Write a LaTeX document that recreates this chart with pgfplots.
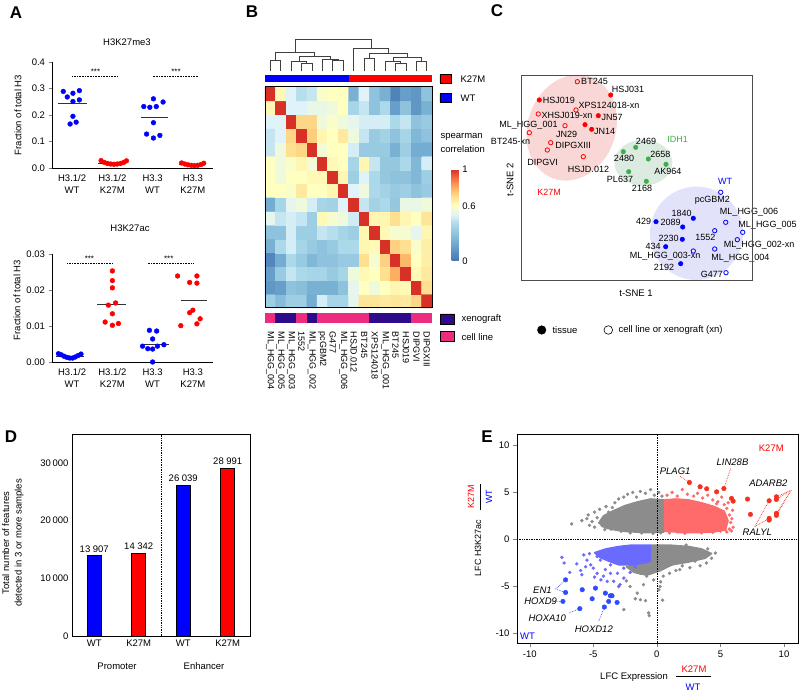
\documentclass[border=0pt]{standalone}
\usepackage{fontspec}
\setmainfont{Liberation Sans}
\usepackage{pgfplots}
\pgfplotsset{compat=1.18}

\definecolor{cRed}{HTML}{FF0000}
\definecolor{cBlue}{HTML}{0000FF}
\definecolor{cGreen}{HTML}{3DAE49}
\definecolor{xeno}{HTML}{2E0B8A}
\definecolor{cellln}{HTML}{EC2C7E}
\definecolor{pinkbg}{HTML}{F9D7D7}
\definecolor{greenbg}{HTML}{DCEBE0}
\definecolor{bluebg}{HTML}{E2E2FB}
\definecolor{dotgray}{HTML}{8C8C8C}
\definecolor{dotred}{HTML}{FF6A6A}
\definecolor{dotblue}{HTML}{6A6AFF}
\definecolor{bigred}{HTML}{F5301F}
\definecolor{bigblue}{HTML}{2F4BFF}

\pgfplotsset{
  colormap={rdylbu}{rgb255(0cm)=(69,117,180); rgb255(2cm)=(116,173,209); rgb255(4cm)=(171,217,233); rgb255(5cm)=(224,243,248); rgb255(6cm)=(255,255,191); rgb255(7cm)=(254,224,144); rgb255(8cm)=(253,174,97); rgb255(9cm)=(244,109,67); rgb255(10cm)=(215,48,39)},
  every axis/.append style={font=\fontsize{9.5}{11.5}\selectfont},
  panel/.style={anchor=south west, scale only axis},
}

\begin{document}
\begin{tikzpicture}[font=\fontsize{9.5}{11.5}\selectfont]
\path[use as bounding box] (0,0) rectangle (800pt,694pt);

% ---------- A: H3K27me3
\begin{axis}[panel, at={(52pt,526pt)}, width=161pt, height=106pt,
  axis x line*=bottom, axis y line*=left, axis line style={-, line width=0.7pt},
  xmin=0.5, xmax=4.5, ymin=0, ymax=0.4, scaled y ticks=false,
  ytick={0,0.1,0.2,0.3,0.4}, yticklabels={0.0,0.1,0.2,0.3,0.4},
  xtick={1,2,3,4}, xticklabels={{H3.1/2\\WT},{H3.1/2\\K27M},{H3.3\\WT},{H3.3\\K27M}},
  xticklabel style={align=center, font=\fontsize{9.5}{12}\selectfont},
  xtick style={draw=none}, tick align=outside, major tick length=3.5pt, clip=false]
\addplot[only marks, mark=*, mark size=2.4pt, cBlue] coordinates {
  (0.78,0.289)(0.88,0.268)(1.02,0.282)(1.18,0.292)(1.02,0.251)(1.18,0.257)(1.02,0.195)(0.95,0.166)(1.10,0.173)};
\addplot[only marks, mark=*, mark size=2.4pt, cRed] coordinates {
  (1.72,0.028)(1.80,0.021)(1.88,0.017)(1.96,0.015)(2.04,0.014)(2.12,0.015)(2.20,0.017)(2.28,0.021)(2.35,0.027)};
\addplot[only marks, mark=*, mark size=2.4pt, cBlue] coordinates {
  (2.78,0.232)(2.93,0.229)(3.09,0.232)(3.26,0.249)(3.02,0.261)(3.02,0.171)(2.85,0.128)(3.02,0.113)(3.18,0.123)};
\addplot[only marks, mark=*, mark size=2.4pt, cRed] coordinates {
  (3.72,0.019)(3.80,0.015)(3.88,0.012)(3.96,0.010)(4.04,0.009)(4.12,0.010)(4.20,0.013)(4.27,0.018)};
\addplot[black!80, line width=0.8pt] coordinates {(0.65,0.242)(1.38,0.242)};
\addplot[black!80, line width=0.8pt] coordinates {(1.65,0.017)(2.35,0.017)};
\addplot[black!80, line width=0.8pt] coordinates {(2.70,0.192)(3.37,0.192)};
\addplot[black!80, line width=0.8pt] coordinates {(3.65,0.013)(4.30,0.013)};
\addplot[black, densely dotted, line width=0.6pt] coordinates {(1.0,0.347)(2.12,0.347)};
\addplot[black, densely dotted, line width=0.6pt] coordinates {(3.0,0.347)(4.12,0.347)};
\node[font=\fontsize{8}{8}\selectfont] at (axis cs:1.58,0.362) {***};
\node[font=\fontsize{8}{8}\selectfont] at (axis cs:3.58,0.362) {***};
\end{axis}

% ---------- A: H3K27ac
\begin{axis}[panel, at={(52pt,332pt)}, width=161pt, height=108pt,
  axis x line*=bottom, axis y line*=left, axis line style={-, line width=0.7pt},
  xmin=0.5, xmax=4.5, ymin=0, ymax=0.03, scaled y ticks=false,
  ytick={0,0.01,0.02,0.03}, yticklabels={0.00,0.01,0.02,0.03},
  xtick={1,2,3,4}, xticklabels={{H3.1/2\\WT},{H3.1/2\\K27M},{H3.3\\WT},{H3.3\\K27M}},
  xticklabel style={align=center, font=\fontsize{9.5}{12}\selectfont},
  xtick style={draw=none}, tick align=outside, major tick length=3.5pt, clip=false]
\addplot[only marks, mark=*, mark size=2.4pt, cBlue] coordinates {
  (0.66,0.0023)(0.73,0.0020)(0.80,0.0016)(0.87,0.0013)(0.94,0.0011)(1.01,0.0011)(1.08,0.0014)(1.15,0.0018)(1.22,0.0022)};
\addplot[only marks, mark=*, mark size=2.4pt, cRed] coordinates {
  (2.00,0.0253)(2.00,0.0226)(2.00,0.0206)(1.90,0.0158)(2.08,0.0164)(2.00,0.0134)(1.82,0.0111)(2.00,0.0102)(2.15,0.0107)};
\addplot[only marks, mark=*, mark size=2.4pt, cBlue] coordinates {
  (2.92,0.0088)(3.10,0.0086)(3.00,0.0064)(2.75,0.0044)(2.88,0.0037)(3.00,0.0036)(3.12,0.0044)(3.28,0.0048)(3.00,0.0000)};
\addplot[only marks, mark=*, mark size=2.4pt, cRed] coordinates {
  (3.62,0.0239)(4.10,0.0239)(3.92,0.0221)(4.10,0.0219)(4.00,0.0144)(3.92,0.0137)(3.70,0.0101)(4.10,0.0106)(4.18,0.0120)};
\addplot[black!80, line width=0.8pt] coordinates {(0.60,0.0016)(1.30,0.0016)};
\addplot[black!80, line width=0.8pt] coordinates {(1.62,0.0161)(2.33,0.0161)};
\addplot[black!80, line width=0.8pt] coordinates {(2.74,0.0050)(3.41,0.0050)};
\addplot[black!80, line width=0.8pt] coordinates {(3.70,0.0171)(4.35,0.0171)};
\addplot[black, densely dotted, line width=0.6pt] coordinates {(0.88,0.0275)(2.0,0.0275)};
\addplot[black, densely dotted, line width=0.6pt] coordinates {(2.88,0.0275)(4.0,0.0275)};
\node[font=\fontsize{8}{8}\selectfont] at (axis cs:1.43,0.0287) {***};
\node[font=\fontsize{8}{8}\selectfont] at (axis cs:3.40,0.0287) {***};
\end{axis}

% ---------- B: heatmap
\begin{axis}[panel, at={(265pt,386pt)}, width=167pt, height=221pt,
  xmin=0, xmax=16, ymin=0, ymax=16, xtick=\empty, ytick=\empty,
  axis on top, axis line style={line width=1pt}, clip=false,
  colormap name=rdylbu, point meta min=0, point meta max=1,
  colorbar, colorbar style={at={(parent axis.north east)}, anchor=north west,
    xshift=11pt, yshift=-82pt, scale only axis, width=7.3pt, height=92pt,
    ytick={0,0.6,1}, yticklabels={0,0.6,1}, axis line style={draw=none},
    major tick length=0pt, yticklabel style={font=\fontsize{9.5}{11}\selectfont}}]
\addplot[matrix plot*, mesh/cols=16, point meta=explicit] coordinates {
(0.5,0.5)[.35] (1.5,0.5)[.27] (2.5,0.5)[.35] (3.5,0.5)[.35] (4.5,0.5)[.20] (5.5,0.5)[.48] (6.5,0.5)[.38] (7.5,0.5)[.38] (8.5,0.5)[.52] (9.5,0.5)[.68] (10.5,0.5)[.68] (11.5,0.5)[.67] (12.5,0.5)[.68] (13.5,0.5)[.67] (14.5,0.5)[.72] (15.5,0.5)[1]

(0.5,1.5)[.12] (1.5,1.5)[.15] (2.5,1.5)[.30] (3.5,1.5)[.28] (4.5,1.5)[.22] (5.5,1.5)[.22] (6.5,1.5)[.22] (7.5,1.5)[.30] (8.5,1.5)[.52] (9.5,1.5)[.60] (10.5,1.5)[.55] (11.5,1.5)[.60] (12.5,1.5)[.63] (13.5,1.5)[.62] (14.5,1.5)[1] (15.5,1.5)[.70]

(0.5,2.5)[.15] (1.5,2.5)[.33] (2.5,2.5)[.45] (3.5,2.5)[.40] (4.5,2.5)[.38] (5.5,2.5)[.38] (6.5,2.5)[.33] (7.5,2.5)[.38] (8.5,2.5)[.55] (9.5,2.5)[.62] (10.5,2.5)[.60] (11.5,2.5)[.70] (12.5,2.5)[.80] (13.5,2.5)[1] (14.5,2.5)[.62] (15.5,2.5)[.67]

(0.5,3.5)[.06] (1.5,3.5)[.20] (2.5,3.5)[.40] (3.5,3.5)[.33] (4.5,3.5)[.25] (5.5,3.5)[.30] (6.5,3.5)[.30] (7.5,3.5)[.33] (8.5,3.5)[.33] (9.5,3.5)[.70] (10.5,3.5)[.57] (11.5,3.5)[.73] (12.5,3.5)[1] (13.5,3.5)[.78] (14.5,3.5)[.60] (15.5,3.5)[.65]

(0.5,4.5)[.22] (1.5,4.5)[.40] (2.5,4.5)[.48] (3.5,4.5)[.38] (4.5,4.5)[.33] (5.5,4.5)[.30] (6.5,4.5)[.33] (7.5,4.5)[.40] (8.5,4.5)[.40] (9.5,4.5)[.63] (10.5,4.5)[.62] (11.5,4.5)[1] (12.5,4.5)[.73] (13.5,4.5)[.70] (14.5,4.5)[.58] (15.5,4.5)[.65]

(0.5,5.5)[.30] (1.5,5.5)[.30] (2.5,5.5)[.48] (3.5,5.5)[.35] (4.5,5.5)[.35] (5.5,5.5)[.45] (6.5,5.5)[.42] (7.5,5.5)[.38] (8.5,5.5)[.35] (9.5,5.5)[.63] (10.5,5.5)[1] (11.5,5.5)[.62] (12.5,5.5)[.57] (13.5,5.5)[.57] (14.5,5.5)[.52] (15.5,5.5)[.63]

(0.5,6.5)[.52] (1.5,6.5)[.45] (2.5,6.5)[.48] (3.5,6.5)[.45] (4.5,6.5)[.35] (5.5,6.5)[.62] (6.5,6.5)[.57] (7.5,6.5)[.55] (8.5,6.5)[.47] (9.5,6.5)[1] (10.5,6.5)[.63] (11.5,6.5)[.63] (12.5,6.5)[.70] (13.5,6.5)[.63] (14.5,6.5)[.60] (15.5,6.5)[.68]

(0.5,7.5)[.20] (1.5,7.5)[.38] (2.5,7.5)[.52] (3.5,7.5)[.55] (4.5,7.5)[.48] (5.5,7.5)[.38] (6.5,7.5)[.37] (7.5,7.5)[.50] (8.5,7.5)[1] (9.5,7.5)[.45] (10.5,7.5)[.37] (11.5,7.5)[.40] (12.5,7.5)[.32] (13.5,7.5)[.53] (14.5,7.5)[.53] (15.5,7.5)[.55]

(0.5,8.5)[.60] (1.5,8.5)[.60] (2.5,8.5)[.58] (3.5,8.5)[.67] (4.5,8.5)[.60] (5.5,8.5)[.60] (6.5,8.5)[.63] (7.5,8.5)[1] (8.5,8.5)[.50] (9.5,8.5)[.55] (10.5,8.5)[.40] (11.5,8.5)[.37] (12.5,8.5)[.33] (13.5,8.5)[.35] (14.5,8.5)[.30] (15.5,8.5)[.33]

(0.5,9.5)[.60] (1.5,9.5)[.55] (2.5,9.5)[.60] (3.5,9.5)[.60] (4.5,9.5)[.62] (5.5,9.5)[.62] (6.5,9.5)[1] (7.5,9.5)[.63] (8.5,9.5)[.35] (9.5,9.5)[.50] (10.5,9.5)[.40] (11.5,9.5)[.32] (12.5,9.5)[.30] (13.5,9.5)[.30] (14.5,9.5)[.25] (15.5,9.5)[.35]

(0.5,10.5)[.60] (1.5,10.5)[.55] (2.5,10.5)[.58] (3.5,10.5)[.63] (4.5,10.5)[.56] (5.5,10.5)[1] (6.5,10.5)[.62] (7.5,10.5)[.60] (8.5,10.5)[.38] (9.5,10.5)[.63] (10.5,10.5)[.45] (11.5,10.5)[.32] (12.5,10.5)[.32] (13.5,10.5)[.40] (14.5,10.5)[.25] (15.5,10.5)[.48]

(0.5,11.5)[.45] (1.5,11.5)[.55] (2.5,11.5)[.70] (3.5,11.5)[.72] (4.5,11.5)[1] (5.5,11.5)[.56] (6.5,11.5)[.60] (7.5,11.5)[.60] (8.5,11.5)[.48] (9.5,11.5)[.33] (10.5,11.5)[.33] (11.5,11.5)[.33] (12.5,11.5)[.22] (13.5,11.5)[.35] (14.5,11.5)[.20] (15.5,11.5)[.20]

(0.5,12.5)[.45] (1.5,12.5)[.50] (2.5,12.5)[.72] (3.5,12.5)[1] (4.5,12.5)[.74] (5.5,12.5)[.63] (6.5,12.5)[.60] (7.5,12.5)[.67] (8.5,12.5)[.55] (9.5,12.5)[.45] (10.5,12.5)[.33] (11.5,12.5)[.37] (12.5,12.5)[.30] (13.5,12.5)[.38] (14.5,12.5)[.25] (15.5,12.5)[.30]

(0.5,13.5)[.50] (1.5,13.5)[.50] (2.5,13.5)[1] (3.5,13.5)[.72] (4.5,13.5)[.72] (5.5,13.5)[.55] (6.5,13.5)[.58] (7.5,13.5)[.55] (8.5,13.5)[.52] (9.5,13.5)[.48] (10.5,13.5)[.48] (11.5,13.5)[.48] (12.5,13.5)[.40] (13.5,13.5)[.45] (14.5,13.5)[.30] (15.5,13.5)[.33]

(0.5,14.5)[.63] (1.5,14.5)[1] (2.5,14.5)[.50] (3.5,14.5)[.50] (4.5,14.5)[.53] (5.5,14.5)[.53] (6.5,14.5)[.55] (7.5,14.5)[.60] (8.5,14.5)[.38] (9.5,14.5)[.45] (10.5,14.5)[.30] (11.5,14.5)[.40] (12.5,14.5)[.15] (13.5,14.5)[.30] (14.5,14.5)[.12] (15.5,14.5)[.22]

(0.5,15.5)[1] (1.5,15.5)[.62] (2.5,15.5)[.50] (3.5,15.5)[.42] (4.5,15.5)[.45] (5.5,15.5)[.58] (6.5,15.5)[.60] (7.5,15.5)[.60] (8.5,15.5)[.22] (9.5,15.5)[.50] (10.5,15.5)[.30] (11.5,15.5)[.22] (12.5,15.5)[.05] (13.5,15.5)[.15] (14.5,15.5)[.12] (15.5,15.5)[.30]
};
% dendrogram
\addplot[black!75, line width=0.7pt, unbounded coords=jump] coordinates {
 (0.5,17.13)(0.5,17.93)(1.5,17.93)(1.5,17.13) (nan,nan)
 (3.5,17.13)(3.5,17.74)(4.5,17.74)(4.5,17.13) (nan,nan)
 (2.5,17.13)(2.5,17.86)(4.0,17.86)(4.0,17.74) (nan,nan)
 (6.5,17.13)(6.5,17.91)(7.5,17.91)(7.5,17.13) (nan,nan)
 (5.5,17.13)(5.5,17.98)(7.0,17.98)(7.0,17.91) (nan,nan)
 (3.25,17.86)(3.25,18.22)(6.25,18.22)(6.25,17.98) (nan,nan)
 (1.0,17.93)(1.0,18.51)(4.75,18.51)(4.75,18.22) (nan,nan)
 (9.5,17.13)(9.5,18.10)(10.5,18.10)(10.5,17.13) (nan,nan)
 (12.5,17.13)(12.5,17.74)(13.5,17.74)(13.5,17.13) (nan,nan)
 (11.5,17.13)(11.5,17.86)(13.0,17.86)(13.0,17.74) (nan,nan)
 (14.5,17.13)(14.5,17.86)(15.5,17.86)(15.5,17.13) (nan,nan)
 (12.25,17.86)(12.25,18.17)(15.0,18.17)(15.0,17.86) (nan,nan)
 (10.0,18.10)(10.0,18.41)(13.625,18.41)(13.625,18.17) (nan,nan)
 (8.5,17.13)(8.5,18.83)(11.81,18.83)(11.81,18.41) (nan,nan)
 (2.875,18.51)(2.875,19.48)(10.16,19.48)(10.16,18.83)
};
% genotype bar
\addplot[fill=cBlue, draw=none] coordinates {(0,16.36)(8,16.36)(8,16.89)(0,16.89)};
\addplot[fill=cRed, draw=none] coordinates {(8,16.36)(16,16.36)(16,16.89)(8,16.89)};
% sample type bar
\addplot[fill=cellln, draw=none] coordinates {(0,-0.36)(1,-0.36)(1,-1.09)(0,-1.09)};
\addplot[fill=xeno, draw=none] coordinates {(1,-0.36)(3,-0.36)(3,-1.09)(1,-1.09)};
\addplot[fill=cellln, draw=none] coordinates {(3,-0.36)(4,-0.36)(4,-1.09)(3,-1.09)};
\addplot[fill=xeno, draw=none] coordinates {(4,-0.36)(5,-0.36)(5,-1.09)(4,-1.09)};
\addplot[fill=cellln, draw=none] coordinates {(5,-0.36)(10,-0.36)(10,-1.09)(5,-1.09)};
\addplot[fill=xeno, draw=none] coordinates {(10,-0.36)(14,-0.36)(14,-1.09)(10,-1.09)};
\addplot[fill=cellln, draw=none] coordinates {(14,-0.36)(16,-0.36)(16,-1.09)(14,-1.09)};
% legend boxes
\addplot[fill=cRed, draw=black, line width=0.6pt] coordinates {(16.76,16.89)(17.88,16.89)(17.88,16.29)(16.76,16.29)(16.76,16.89)};
\addplot[fill=cBlue, draw=black, line width=0.6pt] coordinates {(16.76,15.51)(17.88,15.51)(17.88,14.91)(16.76,14.91)(16.76,15.51)};
\addplot[fill=xeno, draw=black, line width=0.6pt] coordinates {(16.8,-0.43)(18.17,-0.43)(18.17,-1.15)(16.8,-1.15)(16.8,-0.43)};
\addplot[fill=cellln, draw=black, line width=0.6pt] coordinates {(16.8,-1.71)(18.17,-1.71)(18.17,-2.43)(16.8,-2.43)(16.8,-1.71)};
% column names
\begin{scope}[font=\fontsize{9}{10}\selectfont]
\node[rotate=-90, anchor=west] at (axis cs:0.5,-1.45) {ML\_HGG\_004};
\node[rotate=-90, anchor=west] at (axis cs:1.5,-1.45) {ML\_HGG\_005};
\node[rotate=-90, anchor=west] at (axis cs:2.5,-1.45) {ML\_HGG\_003};
\node[rotate=-90, anchor=west] at (axis cs:3.5,-1.45) {1552};
\node[rotate=-90, anchor=west] at (axis cs:4.5,-1.45) {ML\_HGG\_002};
\node[rotate=-90, anchor=west] at (axis cs:5.5,-1.45) {pcGBM2};
\node[rotate=-90, anchor=west] at (axis cs:6.5,-1.45) {G477};
\node[rotate=-90, anchor=west] at (axis cs:7.5,-1.45) {ML\_HGG\_006};
\node[rotate=-90, anchor=west] at (axis cs:8.5,-1.45) {HSJD.012};
\node[rotate=-90, anchor=west] at (axis cs:9.5,-1.45) {BT245};
\node[rotate=-90, anchor=west] at (axis cs:10.5,-1.45) {XPS124018};
\node[rotate=-90, anchor=west] at (axis cs:11.5,-1.45) {ML\_HGG\_001};
\node[rotate=-90, anchor=west] at (axis cs:12.5,-1.45) {BT245};
\node[rotate=-90, anchor=west] at (axis cs:13.5,-1.45) {HSJ019};
\node[rotate=-90, anchor=west] at (axis cs:14.5,-1.45) {DIPGVI};
\node[rotate=-90, anchor=west] at (axis cs:15.5,-1.45) {DIPGXIII};
\end{scope}
\end{axis}

% ---------- C: t-SNE
\begin{axis}[panel, at={(521pt,414pt)}, width=231pt, height=205pt,
  xmin=0, xmax=231, ymin=0, ymax=205, xtick=\empty, ytick=\empty,
  axis on top, axis line style={black!70, line width=0.9pt}, clip=false,
  font=\fontsize{9}{10}\selectfont]
\fill[pinkbg] (axis cs:50.7,152.3) ellipse [x radius=44, y radius=54, rotate=-20];
\fill[greenbg] (axis cs:122.3,117.3) ellipse [x radius=29, y radius=23];
\fill[bluebg] (axis cs:175.5,46.7) ellipse [x radius=46.5, y radius=46.7];
\addplot[only marks, mark=*, mark size=2.3pt, cRed] coordinates {
  (89.7,185)(18.3,180)(77.3,164.3)(64,155.3)(70.7,150.7)};
\addplot[only marks, mark=o, mark size=2.2pt, cRed, mark options={line width=0.8pt}] coordinates {
  (56.3,198.3)(55,170)(17.3,166)(44,154.3)(8.3,147.3)(29.7,137.3)(26.3,130)(62.3,123.3)};
\addplot[only marks, mark=*, mark size=2.3pt, cGreen] coordinates {
  (114.7,132.7)(102.3,128.3)(127.3,121)(145,115.7)(107.7,108.3)(125.3,98.7)};
\addplot[only marks, mark=*, mark size=2.3pt, cBlue] coordinates {
  (172.3,61.7)(135,58.3)(161.7,53)(161.3,40.7)(144.7,33.3)(159.7,16.3)};
\addplot[only marks, mark=o, mark size=2.2pt, cBlue, mark options={line width=0.8pt}] coordinates {
  (199.7,87.7)(204.7,57.7)(221.7,47.7)(193.7,49.3)(216.3,40.3)(172.3,29)(193.7,31)(205,7.3)};
% legend markers
\addplot[only marks, mark=*, mark size=4.3pt, black] coordinates {(20.7,-50)};
\addplot[only marks, mark=o, mark size=4.3pt, black, mark options={line width=0.6pt}] coordinates {(87.3,-50)};
\node at (axis cs:73.5,198.3) {BT245};
\node at (axis cs:107,191) {HSJ031};
\node at (axis cs:37.8,180) {HSJ019};
\node at (axis cs:88,175) {XPS124018-xn};
\node at (axis cs:46,164.3) {XHSJ019-xn};
\node at (axis cs:91,163) {JN57};
\node at (axis cs:7.5,154.3) {ML\_HGG\_001};
\node at (axis cs:45.5,145.7) {JN29};
\node at (axis cs:83.5,149) {JN14};
\node at (axis cs:-10.5,138.3) {BT245-xn};
\node at (axis cs:52,135) {DIPGXIII};
\node at (axis cs:21.5,117.3) {DIPGVI};
\node at (axis cs:67.5,111) {HSJD.012};
\node[text=cRed] at (axis cs:28,87.3) {K27M};
\node at (axis cs:125,138.3) {2469};
\node at (axis cs:103,122) {2480};
\node at (axis cs:139.3,125.7) {2658};
\node at (axis cs:146.8,109) {AK964};
\node at (axis cs:99,101) {PL637};
\node at (axis cs:121,91.7) {2168};
\node[text=cGreen] at (axis cs:156.5,141) {IDH1};
\node[text=cBlue] at (axis cs:204,99) {WT};
\node at (axis cs:191.3,80) {pcGBM2};
\node at (axis cs:160.7,67) {1840};
\node at (axis cs:228,67.7) {ML\_HGG\_006};
\node at (axis cs:122.7,58.3) {429};
\node at (axis cs:149.7,57.3) {2089};
\node at (axis cs:246.5,55) {ML\_HGG\_005};
\node at (axis cs:184.3,42.7) {1552};
\node at (axis cs:147.7,41.7) {2230};
\node at (axis cs:238.2,35) {ML\_HGG\_002-xn};
\node at (axis cs:132,33.3) {434};
\node at (axis cs:144.2,23.7) {ML\_HGG\_003-xn};
\node at (axis cs:219.3,21.3) {ML\_HGG\_004};
\node at (axis cs:143,12.7) {2192};
\node at (axis cs:190.8,5.7) {G477};
\end{axis}

% ---------- D: bars
\begin{axis}[panel, at={(72pt,58pt)}, width=178pt, height=202pt,
  xmin=0.5, xmax=4.5, ymin=0, ymax=35000, scaled y ticks=false,
  ytick={0,10000,20000,30000}, yticklabels={0,10\,000,20\,000,30\,000},
  xtick={1,2,3,4}, xticklabels={WT,K27M,WT,K27M},
  major tick length=0pt, axis line style={line width=0.8pt}, clip=false]
\addplot[ybar, bar width=14pt, fill=cBlue, draw=black, line width=0.6pt,
  point meta=explicit symbolic, nodes near coords,
  every node near coord/.append style={black, font=\fontsize{9.5}{11}\selectfont}]
  coordinates {(1,13907)[13 907] (3,26039)[26 039]};
\addplot[ybar, bar width=14pt, fill=cRed, draw=black, line width=0.6pt,
  point meta=explicit symbolic, nodes near coords,
  every node near coord/.append style={black, font=\fontsize{9.5}{11}\selectfont}]
  coordinates {(2,14342)[14 342] (4,28991)[28 991]};
\addplot[black, densely dotted, line width=0.7pt] coordinates {(2.5,0)(2.5,35000)};
\end{axis}

% ---------- E: scatter
\begin{axis}[panel, at={(517pt,51pt)}, width=281pt, height=209pt,
  xmin=-11, xmax=11.1, ymin=-11, ymax=11.2,
  xtick={-10,-5,0,5,10}, ytick={-10,-5,0,5,10},
  tick align=outside, tick pos=left, major tick length=4pt,
  axis line style={line width=0.9pt}, clip=false,
  /pgf/number format/assume math mode=true]
% dense cores
\addplot[fill=dotgray, draw=dotgray, line width=1.5pt, line join=round] coordinates {
  (-4.6,1.7)(-4.2,2.5)(-3.5,3.0)(-2.5,3.6)(-1.5,4.0)(-0.5,4.3)(0.55,4.2)(0.55,0.78)(-1,0.72)(-2.5,0.85)(-3.5,1.05)(-4.2,1.3)};
\addplot[fill=dotred, draw=dotred, line width=1.5pt, line join=round] coordinates {
  (0.6,0.78)(0.6,4.2)(1.5,4.3)(2.5,4.2)(3.5,3.9)(4.5,3.5)(5.3,3.0)(5.6,2.0)(5.4,1.0)(4.5,0.8)(3,0.72)(1.5,0.72)};
\addplot[fill=dotgray, draw=dotgray, line width=1.5pt, line join=round] coordinates {
  (-0.45,-0.6)(1,-0.6)(2.5,-0.75)(3.5,-1.0)(4.3,-1.5)(3.8,-2.0)(2.5,-2.4)(1.2,-2.7)(0.3,-3.3)(-0.8,-3.8)(-1.8,-3.5)(-2.4,-2.9)(-1.5,-2.6)(-0.45,-2.35)};
\addplot[fill=dotblue, draw=dotblue, line width=1.5pt, line join=round] coordinates {
  (-0.45,-0.6)(-2.0,-0.6)(-3.0,-0.75)(-4.0,-1.0)(-4.9,-1.4)(-4.5,-1.9)(-3.8,-2.3)(-3.0,-2.7)(-2.0,-2.7)(-1.0,-2.5)(-0.45,-2.3)};
% fringe points
\addplot[only marks, mark=*, mark size=1.5pt, dotgray] coordinates {
  (-6.7,1.65)(-5.5,2.2)(-5.4,2.6)(-5.1,1.9)(-4.9,2.9)(-4.7,2.3)(-4.5,3.2)(-4.3,1.45)(-4.0,3.5)(-3.8,2.9)(-3.6,1.1)
  (-3.3,3.9)(-3.0,4.3)(-2.6,4.5)(-2.3,4.8)(-1.9,5.0)(-1.6,4.5)(-1.3,5.1)(-0.9,4.9)(-0.5,5.3)(-0.2,4.7)(0.15,5.0)
  (0.4,4.6)(-2.8,0.85)(-4.1,1.05)(-5.3,1.5)(-1.2,0.7)(-2.1,0.7)(-0.3,0.65)(0.3,0.7)(-5.9,2.0)(-3.5,3.4)(-4.9,1.3)};
\addplot[only marks, mark=*, mark size=1.5pt, dotred] coordinates {
  (0.8,4.7)(1.2,5.0)(1.6,4.6)(2.0,5.3)(2.4,4.8)(2.9,4.6)(3.2,4.9)(3.6,4.4)(4.0,4.7)(4.4,4.2)(4.8,4.0)(5.1,4.5)
  (5.3,3.7)(5.5,3.3)(5.7,2.6)(5.8,1.8)(5.7,1.1)(5.5,0.8)(5.0,0.9)(4.4,0.75)(5.95,3.1)(5.9,2.2)(6.0,1.3)(5.85,0.9)
  (3.5,0.7)(2.2,0.65)(1.0,0.7)(4.7,3.8)(5.4,2.4)(5.6,3.9)};
\addplot[only marks, mark=*, mark size=1.5pt, dotgray] coordinates {
  (4.6,-1.45)(4.3,-2.0)(3.9,-2.5)(4.1,-1.6)(3.4,-2.8)(3.0,-2.3)(2.6,-3.0)(2.0,-2.8)(1.5,-3.3)(1.0,-3.6)(0.5,-3.9)
  (0.3,-4.5)(0.25,-5.0)(0.45,-6.45)(-1.3,-6.4)(-0.9,-6.5)(-0.65,-7.8)(-0.6,-8.1)(-2.6,-7.45)(-1.7,-6.3)(-1.55,-5.7)
  (-2.1,-5.0)(-1.05,-4.8)(-0.25,-4.3)(-0.5,-3.6)(0.15,-5.35)(-1.3,-3.6)(-0.8,-3.9)(3.5,-1.3)(2.3,-0.6)(4.0,-1.0)
  (-2.4,-4.4)(1.8,-3.2)};
\addplot[only marks, mark=*, mark size=1.5pt, dotblue] coordinates {
  (-7.47,-1.9)(-7.3,-2.5)(-6.85,-3.5)(-6.0,-3.3)(-5.9,-3.75)(-5.75,-1.65)(-5.5,-2.2)(-5.2,-2.7)(-5.0,-3.05)(-4.7,-3.6)
  (-4.4,-4.3)(-4.2,-3.9)(-3.9,-4.45)(-3.65,-3.6)(-3.4,-4.45)(-3.1,-3.6)(-2.9,-4.8)(-2.6,-4.1)(-3.0,-5.0)(-4.45,-2.2)
  (-4.7,-1.8)(-4.05,-3.2)(-3.65,-2.7)(-2.6,-3.05)(-2.1,-3.5)(-1.7,-2.9)(-5.3,-1.5)(-6.3,-2.6)(-5.6,-2.9)(-4.9,-4.0)};
% zero lines
\addplot[black, densely dotted, line width=0.7pt] coordinates {(0,-11)(0,11.2)};
\addplot[black, densely dotted, line width=0.7pt] coordinates {(-11,0)(11.1,0)};
% highlighted genes
\addplot[only marks, mark=*, mark size=2.3pt, bigred] coordinates {
  (2.56,6.05)(3.4,5.6)(3.92,5.38)(4.7,5.06)(5.27,5.41)(5.87,4.36)(6.0,4.07)(7.13,4.29)(7.36,2.66)
  (8.83,4.11)(8.83,2.24)(8.83,2.06)(9.4,4.53)(9.4,4.25)(9.4,2.77)(9.4,2.56)};
\addplot[only marks, mark=*, mark size=2.3pt, bigblue] coordinates {
  (-7.18,-4.29)(-7.18,-5.63)(-7.39,-6.58)(-6.06,-7.35)(-4.13,-7.18)(-5.87,-5.34)(-5.09,-6.3)(-4.83,-5.17)
  (-4.05,-5.7)(-3.79,-6.58)(-3.66,-5.98)(-3.53,-5.98)(-3.13,-6.69)};
\addplot[bigred, densely dotted, line width=0.7pt, unbounded coords=jump] coordinates {
  (1.83,6.72)(2.56,6.05) (nan,nan) (5.8,7.53)(5.27,5.41) (nan,nan)
  (10.57,5.24)(9.4,4.53) (nan,nan) (10.57,5.24)(9.4,4.25) (nan,nan) (10.57,5.24)(9.4,2.77) (nan,nan) (10.57,5.24)(9.4,2.56) (nan,nan)
  (7.7,1.36)(8.83,4.11) (nan,nan) (7.7,1.36)(8.83,2.24)};
\addplot[bigblue, densely dotted, line width=0.7pt, unbounded coords=jump] coordinates {
  (-7.96,-5.27)(-7.18,-4.29) (nan,nan) (-7.96,-5.27)(-7.18,-5.63) (nan,nan) (-8.22,-6.58)(-7.39,-6.58) (nan,nan)
  (-6.92,-7.81)(-6.06,-7.35) (nan,nan) (-4.57,-8.69)(-4.13,-7.18)};
\begin{scope}[font=\itshape\fontsize{9.5}{11}\selectfont]
\node at (axis cs:1.44,7.25) {PLAG1};
\node at (axis cs:5.95,8.24) {LIN28B};
\node at (axis cs:8.77,5.94) {ADARB2};
\node at (axis cs:7.9,0.72) {RALYL};
\node at (axis cs:-9.0,-5.41) {EN1};
\node at (axis cs:-9.14,-6.58) {HOXD9};
\node at (axis cs:-8.62,-8.34) {HOXA10};
\node at (axis cs:-4.96,-9.51) {HOXD12};
\end{scope}
\node[text=cRed] at (axis cs:9.0,9.72) {K27M};
\node[text=cBlue] at (axis cs:-10.18,-10.28) {WT};
\end{axis}

% ---------- free text, pixel coordinates from the top-left corner
\begin{scope}[x=1pt, y=-1pt, shift={(0pt,694pt)}]
\begin{scope}[font=\bfseries\fontsize{17}{17}\selectfont]
\node at (16,13) {A};
\node at (252,12) {B};
\node at (497,11) {C};
\node at (11,437) {D};
\node at (487,437) {E};
\end{scope}
\node at (127,42) {H3K27me3};
\node at (130,228) {H3K27ac};
\node[rotate=90] at (18,115) {Fraction of total H3};
\node[rotate=90] at (17,300) {Fraction of total H3};
\node[anchor=west] at (457,79) {K27M};
\node[anchor=west] at (457,98) {WT};
\node[anchor=west] at (437,137) {spearman};
\node[anchor=west] at (437,149) {correlation};
\node[anchor=west] at (458,319) {xenograft};
\node[anchor=west] at (458,337) {cell line};
\node at (636,293) {t-SNE 1};
\node[rotate=90] at (510,180) {t-SNE 2};
\node[anchor=west] at (549,330) {tissue};
\node[anchor=west] at (615,330) {cell line or xenograft (xn)};
\node[rotate=90, align=center, font=\fontsize{9.5}{12.5}\selectfont] at (13,543) {Total number of features\\detected in 3 or more samples};
\node at (117,666) {Promoter};
\node at (204,666) {Enhancer};
\node at (634,677) {LFC Expression};
\node[text=cRed] at (694,669) {K27M};
\draw[line width=0.8pt] (676,676.5) -- (711,676.5);
\node[text=cBlue] at (693,687) {WT};
\node[rotate=90, font=\fontsize{9}{11}\selectfont] at (478,548) {LFC H3K27ac};
\node[rotate=90, text=cRed, font=\fontsize{9}{11}\selectfont] at (471,497) {K27M};
\draw[line width=0.8pt] (480,484) -- (480,510);
\node[rotate=90, text=cBlue, font=\fontsize{9}{11}\selectfont] at (489,497) {WT};
\end{scope}
\end{tikzpicture}
\end{document}
